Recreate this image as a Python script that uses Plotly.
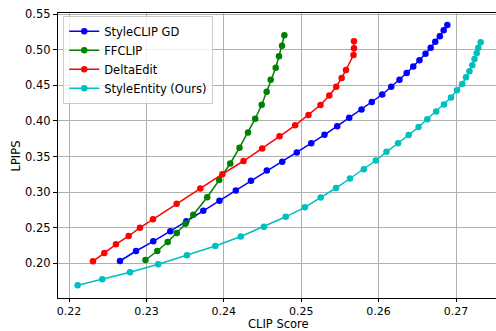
import plotly.graph_objects as go

# StyleCLIP GD
gd_x = [0.22659, 0.22866, 0.23089, 0.23309, 0.23516, 0.23735, 0.23944, 0.24155, 0.24351, 0.24556,
        0.24755, 0.24943, 0.25130, 0.25301, 0.25465, 0.25621, 0.25779, 0.25912, 0.26047, 0.26163,
        0.26270, 0.26363, 0.26448, 0.26528, 0.26606, 0.26673, 0.26732, 0.26791, 0.26841, 0.26888]
gd_y = [0.20323, 0.21727, 0.23089, 0.24493, 0.25897, 0.27372, 0.28790, 0.30222, 0.31598, 0.33030,
        0.34266, 0.35558, 0.36849, 0.38043, 0.39251, 0.40430, 0.41595, 0.42648, 0.43701, 0.44783,
        0.45765, 0.46720, 0.47633, 0.48517, 0.49416, 0.50273, 0.51101, 0.51874, 0.52716, 0.53460]

# FFCLIP
ff_x = [0.22988, 0.23141, 0.23275, 0.23393, 0.23505, 0.23606, 0.23786, 0.23941, 0.24083, 0.24203,
        0.24313, 0.24406, 0.24490, 0.24554, 0.24606, 0.24671, 0.24713, 0.24752, 0.24782]
ff_y = [0.20463, 0.21727, 0.22991, 0.24254, 0.25546, 0.26810, 0.29281, 0.31696, 0.34013, 0.36231,
        0.38366, 0.40303, 0.42255, 0.44094, 0.45779, 0.47464, 0.49065, 0.50553, 0.52013]

# DeltaEdit
de_x = [0.22310, 0.22456, 0.22607, 0.22771, 0.22917, 0.23085, 0.23391, 0.23696, 0.23981, 0.24255,
        0.24496, 0.24720, 0.24922, 0.25094, 0.25249, 0.25363, 0.25453, 0.25523, 0.25579, 0.25676,
        0.25682, 0.25682]
de_y = [0.20281, 0.21446, 0.22668, 0.23833, 0.24999, 0.26178, 0.28368, 0.30503, 0.32510, 0.34364,
        0.36119, 0.37832, 0.39377, 0.40823, 0.42227, 0.43561, 0.44797, 0.46018, 0.47142, 0.49248,
        0.50189, 0.51172]

# StyleEntity (Ours)
se_x = [0.22112, 0.22430, 0.22788, 0.23153, 0.23524, 0.23890, 0.24220, 0.24519, 0.24800, 0.25047,
        0.25252, 0.25450, 0.25630, 0.25809, 0.25964, 0.26102, 0.26251, 0.26389, 0.26516, 0.26629,
        0.26744, 0.26845, 0.26935, 0.27013, 0.27080, 0.27129, 0.27174, 0.27211, 0.27239, 0.27267,
        0.27288, 0.27319]
se_y = [0.16911, 0.17753, 0.18736, 0.19860, 0.21123, 0.22429, 0.23763, 0.25139, 0.26529, 0.27863,
        0.29239, 0.30573, 0.31907, 0.33199, 0.34434, 0.35656, 0.36849, 0.38015, 0.39138, 0.40219,
        0.41314, 0.42297, 0.43280, 0.44291, 0.45176, 0.46116, 0.46973, 0.47815, 0.48686, 0.49500,
        0.50272, 0.51031]

names = ["StyleCLIP GD", "FFCLIP", "DeltaEdit", "StyleEntity (Ours)"]
colors = ["#0000ff", "#008000", "#ff0000", "#00bfbf"]
xs = [gd_x, ff_x, de_x, se_x]
ys = [gd_y, ff_y, de_y, se_y]

x_ticks = [0.22, 0.23, 0.24, 0.25, 0.26, 0.27]
x_tick_labels = ["0.22", "0.23", "0.24", "0.25", "0.26", "0.27"]
y_ticks = [0.20, 0.25, 0.30, 0.35, 0.40, 0.45, 0.50, 0.55]
y_tick_labels = ["0.20", "0.25", "0.30", "0.35", "0.40", "0.45", "0.50", "0.55"]

FONT = "DejaVu Sans"

fig = go.Figure()
for n, c, x, y in zip(names, colors, xs, ys):
    fig.add_trace(go.Scatter(
        x=x, y=y, name=n, mode="lines+markers",
        line=dict(color=c, width=1.5),
        marker=dict(color=c, size=6.5, symbol="circle"),
        cliponaxis=False,
    ))

fig.update_layout(
    width=496, height=331,
    margin=dict(l=58, r=0, t=13, b=33, autoexpand=False),
    paper_bgcolor="white", plot_bgcolor="white",
    font=dict(family=FONT, size=11.5, color="black"),
    showlegend=True,
    legend=dict(
        x=0.012, y=0.99, xanchor="left", yanchor="top",
        bgcolor="rgba(255,255,255,0.8)", bordercolor="#cccccc", borderwidth=1,
        font=dict(family=FONT, size=11.5, color="black"),
    ),
    xaxis=dict(
        range=[0.218579, 0.275168], automargin=False,
        tickvals=x_ticks, ticktext=x_tick_labels,
        tickfont=dict(family=FONT, size=11, color="black"),
        showgrid=True, gridcolor="#b0b0b0", gridwidth=1,
        zeroline=False,
        showline=True, linecolor="black", linewidth=1.2, mirror=True,
        ticks="outside", ticklen=3, tickwidth=1, tickcolor="black",
    ),
    yaxis=dict(
        range=[0.151278, 0.551446], automargin=False,
        tickvals=y_ticks, ticktext=y_tick_labels,
        tickfont=dict(family=FONT, size=11.5, color="black"),
        showgrid=True, gridcolor="#b0b0b0", gridwidth=1,
        zeroline=False,
        showline=True, linecolor="black", linewidth=1.2, mirror=False,
        ticks="outside", ticklen=4, tickwidth=1, tickcolor="black",
    ),
    annotations=[
        dict(text="CLIP Score", xref="x", yref="paper", x=0.2471, y=-0.0915,
             xanchor="center", yanchor="middle", showarrow=False,
             font=dict(family=FONT, size=11.5, color="black")),
        dict(text="LPIPS", xref="paper", yref="paper", x=-0.0959, y=0.5,
             xanchor="center", yanchor="middle", showarrow=False, textangle=-90,
             font=dict(family=FONT, size=11.5, color="black")),
    ],
)

fig.write_html(
    "out.html",
    config={"displayModeBar": False},
    post_script="document.body.style.margin='0';document.body.style.padding='0';"
                "document.body.style.overflow='hidden';",
)
